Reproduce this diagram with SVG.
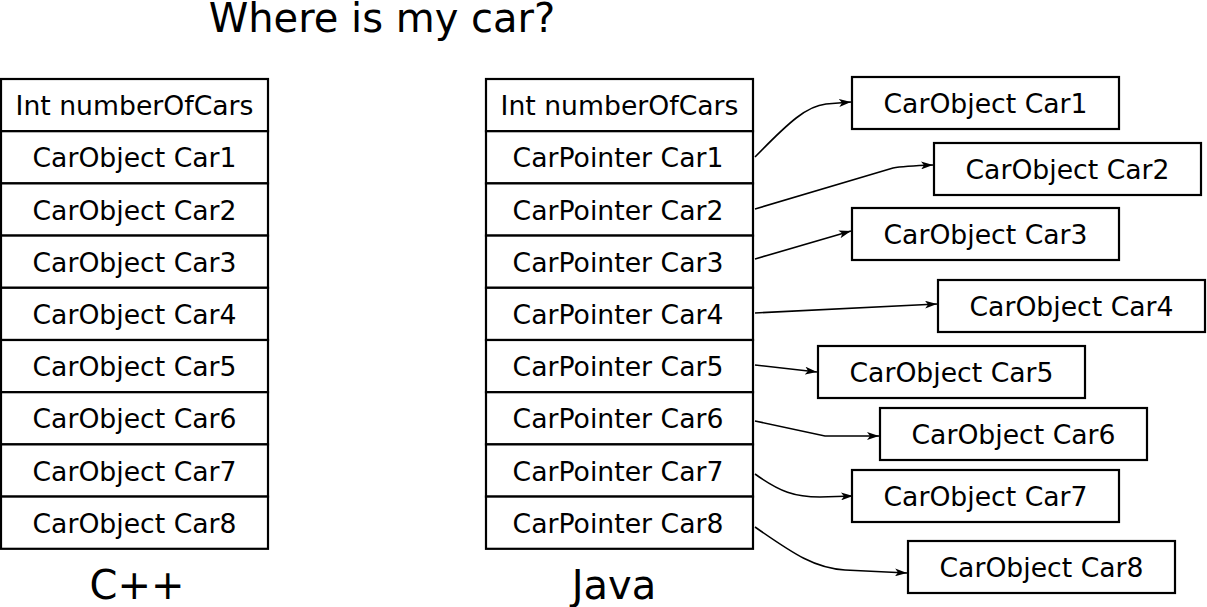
<svg xmlns="http://www.w3.org/2000/svg" width="1207" height="607" viewBox="0 0 1207 607">
<style>
text{font-family:"DejaVu Sans","Liberation Sans",sans-serif;fill:#000;text-anchor:middle}
.c{font-size:26.67px}
.big{font-size:40px}
rect{fill:#fff;stroke:#000;stroke-width:2.2}
.conn path{fill:none;stroke:#000;stroke-width:1.6;marker-end:url(#ah)}
</style>
<defs>
<marker id="ah" viewBox="0 0 12 8" refX="12" refY="4" markerWidth="12" markerHeight="8" markerUnits="userSpaceOnUse" orient="auto">
<path d="M0,0 L12,4 L0,8 L3,4 Z" fill="#000"/>
</marker>
</defs>
<rect x="0" y="0" width="1207" height="607" style="stroke:none"/>
<text class="big" x="382" y="32">Where is my car?</text>
<g id="cpp">
<rect x="1" y="79" width="267" height="52.2"/><text class="c" x="134.5" y="115.2">Int numberOfCars</text>
<rect x="1" y="131.2" width="267" height="52.2"/><text class="c" x="134.5" y="167.4">CarObject Car1</text>
<rect x="1" y="183.4" width="267" height="52.2"/><text class="c" x="134.5" y="219.6">CarObject Car2</text>
<rect x="1" y="235.6" width="267" height="52.2"/><text class="c" x="134.5" y="271.8">CarObject Car3</text>
<rect x="1" y="287.8" width="267" height="52.2"/><text class="c" x="134.5" y="324">CarObject Car4</text>
<rect x="1" y="340" width="267" height="52.2"/><text class="c" x="134.5" y="376.2">CarObject Car5</text>
<rect x="1" y="392.2" width="267" height="52.2"/><text class="c" x="134.5" y="428.4">CarObject Car6</text>
<rect x="1" y="444.4" width="267" height="52.2"/><text class="c" x="134.5" y="480.6">CarObject Car7</text>
<rect x="1" y="496.6" width="267" height="52.2"/><text class="c" x="134.5" y="532.8">CarObject Car8</text>
</g>
<g id="java">
<rect x="486" y="79" width="267" height="52.2"/><text class="c" x="619.5" y="115.2">Int numberOfCars</text>
<rect x="486" y="131.2" width="267" height="52.2"/><text class="c" x="618" y="167.4">CarPointer Car1</text>
<rect x="486" y="183.4" width="267" height="52.2"/><text class="c" x="618" y="219.6">CarPointer Car2</text>
<rect x="486" y="235.6" width="267" height="52.2"/><text class="c" x="618" y="271.8">CarPointer Car3</text>
<rect x="486" y="287.8" width="267" height="52.2"/><text class="c" x="618" y="324">CarPointer Car4</text>
<rect x="486" y="340" width="267" height="52.2"/><text class="c" x="618" y="376.2">CarPointer Car5</text>
<rect x="486" y="392.2" width="267" height="52.2"/><text class="c" x="618" y="428.4">CarPointer Car6</text>
<rect x="486" y="444.4" width="267" height="52.2"/><text class="c" x="618" y="480.6">CarPointer Car7</text>
<rect x="486" y="496.6" width="267" height="52.2"/><text class="c" x="618" y="532.8">CarPointer Car8</text>
</g>
<g id="obj1"><rect x="852" y="77" width="267" height="52"/><text class="c" x="985.5" y="113.2">CarObject Car1</text></g>
<g id="obj2"><rect x="934" y="143" width="267" height="52"/><text class="c" x="1067.5" y="179.2">CarObject Car2</text></g>
<g id="obj3"><rect x="852" y="208" width="267" height="52"/><text class="c" x="985.5" y="244.2">CarObject Car3</text></g>
<g id="obj4"><rect x="938" y="280" width="267" height="52"/><text class="c" x="1071.5" y="316.2">CarObject Car4</text></g>
<g id="obj5"><rect x="818" y="346" width="267" height="52"/><text class="c" x="951.5" y="382.2">CarObject Car5</text></g>
<g id="obj6"><rect x="880" y="408" width="267" height="52"/><text class="c" x="1013.5" y="444.2">CarObject Car6</text></g>
<g id="obj7"><rect x="852" y="470" width="267" height="52"/><text class="c" x="985.5" y="506.2">CarObject Car7</text></g>
<g id="obj8"><rect x="908" y="541" width="267" height="52"/><text class="c" x="1041.5" y="577.2">CarObject Car8</text></g>
<g class="conn" id="connectors">
<path d="M755,157 C790,121 807,106 826,104 L851,102"/>
<path d="M755,209 L893,168 Q903,166 933,165"/>
<path d="M755,259 L851,231"/>
<path d="M755,313 L937,304"/>
<path d="M755,365 L817,372"/>
<path d="M755,421 L825,436 L879,436"/>
<path d="M755,474 C780,492 795,497 820,497 L853,496"/>
<path d="M755,527 C795,555 815,568 845,570 L907,573"/>
</g>
<text class="big" x="137" y="599">C++</text>
<text class="big" x="614" y="599">Java</text>
</svg>
